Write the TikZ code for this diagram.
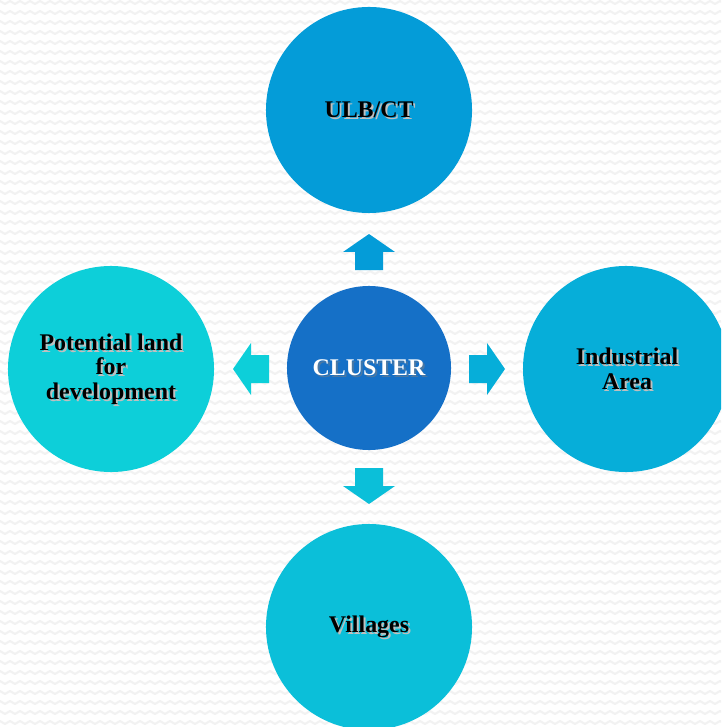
\documentclass[tikz,border=0pt]{standalone}
\usepackage{fontspec}
\setmainfont{Liberation Serif}

\definecolor{ulbcol}{HTML}{049CD8}
\definecolor{landcol}{HTML}{0DCFD9}
\definecolor{induscol}{HTML}{06AED9}
\definecolor{villcol}{HTML}{0BBFD9}
\definecolor{clustcol}{HTML}{1570C7}
\definecolor{zigcol}{HTML}{F2F2F2}

\tikzset{
  bubble/.style={circle, minimum size=5.15cm, inner sep=0pt},
  hub/.style={circle, minimum size=4.1cm, inner sep=0pt, fill=clustcol},
  lbl/.style={font=\bfseries\fontsize{17}{17.5}\selectfont, align=center, text=black},
  lblshadow/.style={lbl, text=black!25},
  blockarrow/.pic={
    \fill[#1] (0,-14) -- (18,-14) -- (18,-26) -- (36,0) -- (18,26) -- (18,14) -- (0,14) -- cycle;
  }
}

\begin{document}
\begin{tikzpicture}[x=0.025cm, y=-0.025cm]

\useasboundingbox (0,0) rectangle (721,727);
\clip (0,0) rectangle (721,727);

% zigzag paper
\fill[white] (0,0) rectangle (721,727);
\foreach \y in {4,14,...,734}
  \draw[zigcol, line width=1.5pt, line join=round]
    (-5,\y) \foreach \x in {-5,5,...,725} { -- (\x+5,\y-3) -- (\x+10,\y) };

% the four outer bubbles
\node[bubble, fill=ulbcol] (ulb) at (369, 110) {};
\node[bubble, fill=landcol] (land) at (111, 369) {};
\node[bubble, fill=induscol] (indus) at (626, 369) {};
\node[bubble, fill=villcol] (vill) at (369, 627) {};

\node[hub] (cluster) at (369, 368) {};

% block arrows out of the hub
\pic[rotate=90] at (369, 270) {blockarrow=ulbcol};
\pic[rotate=180] at (269, 369) {blockarrow=landcol};
\pic at (469, 369) {blockarrow=induscol};
\pic[rotate=-90] at (369, 468) {blockarrow=villcol};

% text, shadow first
\node[lblshadow] (ulb-s) at (371, 112) {ULB/CT};
\node[lbl] (ulb-t) at (ulb) {ULB/CT};

\node[lblshadow] (land-s) at (113, 371) {Potential land\\for\\development};
\node[lbl] (land-t) at (land) {Potential land\\for\\development};

\node[lblshadow] (indus-s) at (629, 371) {Industrial\\Area};
\node[lbl] (indus-t) at (627, 369) {Industrial\\Area};

\node[lblshadow] (vill-s) at (371, 629) {Villages};
\node[lbl] (vill-t) at (vill) {Villages};

\node[lblshadow, text=black!50, opacity=0.5] (cluster-s) at (371, 370) {CLUSTER};
\node[lbl, text=white] (cluster-t) at (cluster) {CLUSTER};

\end{tikzpicture}
\end{document}
